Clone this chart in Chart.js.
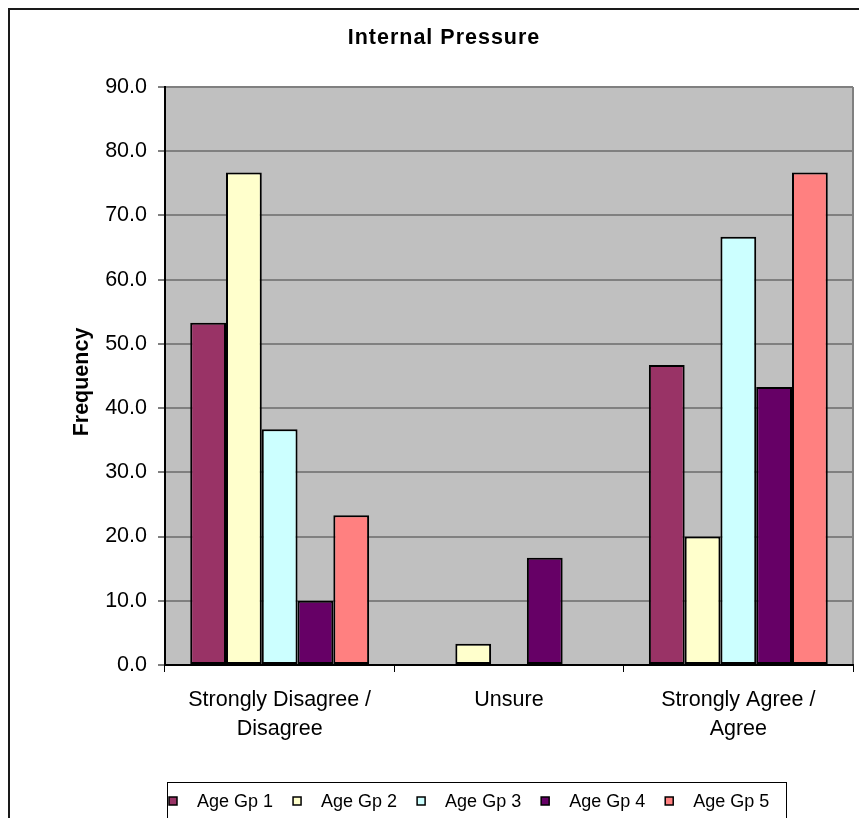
<!DOCTYPE html>
<html>
<head>
<meta charset="utf-8">
<script src="https://cdn.jsdelivr.net/npm/chart.js@4.4.0/dist/chart.umd.min.js"></script>
<style>
  html, body { margin: 0; padding: 0; background: #fff; }
  #wrap { width: 859px; height: 818px; }
</style>
</head>
<body>
<div id="wrap"><canvas id="c" width="859" height="818"></canvas></div>
<script>
// ---- data ----
const chartTitle = 'Internal Pressure';
const yAxisTitle = 'Frequency';
const categoryLabels = [['Strongly Disagree /', 'Disagree'], 'Unsure', ['Strongly Agree /', 'Agree']];
const seriesLabels = ['Age Gp 1', 'Age Gp 2', 'Age Gp 3', 'Age Gp 4', 'Age Gp 5'];
const ageGp1 = [53.3, 0.0, 46.7];
const ageGp2 = [76.7, 3.3, 20.0];
const ageGp3 = [36.7, 0.0, 66.7];
const ageGp4 = [10.0, 16.7, 43.3];
const ageGp5 = [23.3, 0.0, 76.7];
const yTickValues = [0, 10, 20, 30, 40, 50, 60, 70, 80, 90];

// ---- styling ----
const FONT = '"Liberation Sans", Arial, sans-serif';
const AXIS_FONT_SIZE = 21.5;
const seriesColors = ['#993366', '#FFFFCC', '#CCFFFF', '#660066', '#FF8080'];
const seriesValues = [ageGp1, ageGp2, ageGp3, ageGp4, ageGp5];

Chart.defaults.font.family = FONT;
Chart.defaults.color = '#000';

// white page, outer frame, grey plot area
const backdrop = {
  id: 'backdrop',
  beforeDraw(chart) {
    const { ctx, chartArea: a } = chart;
    ctx.save();
    ctx.fillStyle = '#fff';
    ctx.fillRect(0, 0, chart.width, chart.height);
    ctx.strokeStyle = '#1a1a1a';
    ctx.lineWidth = 2;
    ctx.strokeRect(9, 9, chart.width + 20, chart.height + 20);
    ctx.fillStyle = '#C0C0C0';
    ctx.fillRect(a.left, a.top, a.right - a.left, a.bottom - a.top);
    ctx.strokeStyle = '#808080';
    ctx.lineWidth = 2;
    ctx.beginPath();
    ctx.moveTo(a.right, a.top);
    ctx.lineTo(a.right, a.bottom);
    ctx.stroke();
    ctx.restore();
  }
};

// chart heading and rotated value-axis caption
const headings = {
  id: 'headings',
  afterDraw(chart) {
    const { ctx, chartArea: a } = chart;
    ctx.save();
    ctx.fillStyle = '#000';
    ctx.textAlign = 'center';
    ctx.textBaseline = 'middle';
    ctx.font = 'bold ' + AXIS_FONT_SIZE + 'px ' + FONT;
    ctx.letterSpacing = '1px';
    ctx.fillText(chartTitle, 444, 38);
    ctx.letterSpacing = '0px';
    ctx.translate(82, (a.top + a.bottom) / 2 + 6);
    ctx.rotate(-Math.PI / 2);
    ctx.fillText(yAxisTitle, 0, 0);
    ctx.restore();
  }
};

// boxed key below the axis
const keyBox = {
  id: 'keyBox',
  afterDraw(chart) {
    const { ctx } = chart;
    const cy = 801;
    const sq = 8;
    const gap = 20;
    let x = 169;
    ctx.save();
    ctx.font = '18px ' + FONT;
    ctx.textBaseline = 'middle';
    ctx.textAlign = 'left';
    chart.data.datasets.forEach(ds => {
      ctx.fillStyle = ds.backgroundColor;
      ctx.fillRect(x, cy - sq / 2, sq, sq);
      ctx.strokeStyle = '#000';
      ctx.lineWidth = 1.5;
      ctx.strokeRect(x, cy - sq / 2, sq, sq);
      const tx = x + sq + gap;
      ctx.fillStyle = '#000';
      ctx.fillText(ds.label, tx, cy + 1);
      x = tx + ctx.measureText(ds.label).width + gap;
    });
    ctx.strokeStyle = '#000';
    ctx.lineWidth = 1;
    ctx.strokeRect(167.5, 782.5, 786 - 167, 60);
    ctx.restore();
  }
};

new Chart(document.getElementById('c'), {
  type: 'bar',
  data: {
    labels: categoryLabels,
    datasets: seriesValues.map((vals, i) => ({
      label: seriesLabels[i],
      data: vals,
      backgroundColor: seriesColors[i],
      borderColor: '#000',
      borderWidth: 2,
      borderSkipped: false,
      barPercentage: 1,
      categoryPercentage: 0.78
    }))
  },
  options: {
    responsive: false,
    animation: false,
    devicePixelRatio: 1,
    layout: { padding: { left: 65, right: 6, top: 87, bottom: 35 } },
    plugins: {
      legend: { display: false },
      title: { display: false },
      tooltip: { enabled: false }
    },
    scales: {
      x: {
        grid: {
          display: true,
          drawOnChartArea: false,
          drawTicks: true,
          tickLength: 7,
          tickColor: '#000',
          tickWidth: 1,
          offset: true
        },
        border: { display: true, color: '#000', width: 2 },
        ticks: {
          font: { size: AXIS_FONT_SIZE, lineHeight: 1.35 },
          padding: 13.5,
          color: '#000',
          maxRotation: 0,
          autoSkip: false
        },
        afterFit(scale) { scale.height = 118; }
      },
      y: {
        min: yTickValues[0],
        max: yTickValues[yTickValues.length - 1],
        afterBuildTicks(scale) { scale.ticks = yTickValues.map(v => ({ value: v })); },
        ticks: {
          callback: v => Number(v).toFixed(1),
          font: { size: AXIS_FONT_SIZE },
          padding: 11,
          color: '#000'
        },
        grid: {
          color: c => (c.tick && c.tick.value === 0) ? 'rgba(0,0,0,0)' : '#808080',
          lineWidth: 2,
          tickColor: '#000',
          tickLength: 7,
          tickWidth: 1
        },
        border: { color: '#000', width: 2 },
        title: { display: false },
        afterFit(scale) { scale.width = 100; }
      }
    }
  },
  plugins: [backdrop, headings, keyBox]
});
</script>
</body>
</html>
